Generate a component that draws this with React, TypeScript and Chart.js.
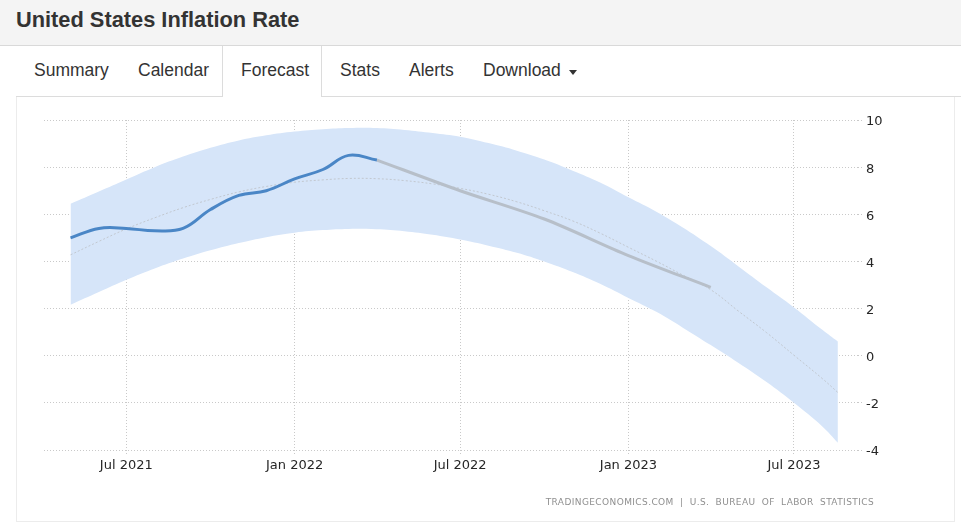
import React, { useEffect, useRef } from 'react';
import { Chart, registerables } from 'chart.js';

Chart.register(...registerables);

// ---- data ----
const actualDates = ['2021-05-01', '2021-06-01', '2021-07-01', '2021-08-01', '2021-09-01', '2021-10-01', '2021-11-01', '2021-12-01', '2022-01-01', '2022-02-01', '2022-03-01', '2022-04-01'];
const actualValues = [5.0, 5.4, 5.4, 5.3, 5.4, 6.2, 6.8, 7.0, 7.5, 7.9, 8.5, 8.3];

const forecastDates = ['2022-04-01', '2022-07-01', '2022-10-01', '2023-01-01', '2023-04-01'];
const forecastValues = [8.3, 7.0, 5.8, 4.25, 2.9];

const bandDates = [
  '2021-05-01', '2021-06-01', '2021-07-01', '2021-08-01', '2021-09-01', '2021-10-01', '2021-11-01', '2021-12-01',
  '2022-01-01', '2022-02-01', '2022-03-01', '2022-04-01', '2022-05-01', '2022-06-01', '2022-07-01', '2022-08-01',
  '2022-09-01', '2022-10-01', '2022-11-01', '2022-12-01', '2023-01-01', '2023-02-01', '2023-03-01', '2023-04-01',
  '2023-05-01', '2023-06-01', '2023-07-01', '2023-08-01', '2023-08-18',
];
const bandUpper = [6.45, 6.97, 7.48, 8.0, 8.45, 8.82, 9.13, 9.35, 9.51, 9.61, 9.66, 9.66, 9.58, 9.45, 9.29, 9.02, 8.7, 8.32, 7.85, 7.35, 6.72, 6.1, 5.45, 4.65, 3.8, 2.9, 2.05, 1.1, 0.6];
const bandLower = [2.16, 2.7, 3.22, 3.7, 4.12, 4.47, 4.78, 5.03, 5.22, 5.33, 5.38, 5.36, 5.28, 5.13, 4.93, 4.67, 4.37, 4.0, 3.55, 3.05, 2.45, 1.85, 1.2, 0.45, -0.3, -1.12, -2.0, -3.0, -3.69];
const trendValues = [4.28, 4.85, 5.38, 5.85, 6.28, 6.63, 6.95, 7.18, 7.36, 7.46, 7.52, 7.51, 7.43, 7.29, 7.1, 6.85, 6.53, 6.15, 5.72, 5.2, 4.6, 4.0, 3.43, 2.8, 1.9, 0.98, 0.02, -0.97, -1.56];

const xTickDates = ['2021-07-01', '2022-01-01', '2022-07-01', '2023-01-01', '2023-07-01'];
const xTickLabels = ['Jul 2021', 'Jan 2022', 'Jul 2022', 'Jan 2023', 'Jul 2023'];
const xRange = ['2021-04-02', '2023-09-09'];
const yTicks = [-4, -2, 0, 2, 4, 6, 8, 10];

const tabs = ['Summary', 'Calendar', 'Forecast', 'Stats', 'Alerts', 'Download'];

const EPOCH = Date.parse('2021-07-01T00:00:00Z');
const day = (d: string) => (Date.parse(d + 'T00:00:00Z') - EPOCH) / 86400000;
const pts = (dates: string[], vals: number[]) => dates.map((d, i) => ({ x: day(d), y: vals[i] }));

const FONT = "'DejaVu Sans', sans-serif";

function InflationChart() {
  const ref = useRef<HTMLCanvasElement | null>(null);
  useEffect(() => {
    if (!ref.current) return;
    const tickVals = xTickDates.map(day);
    const chart = new Chart(ref.current, {
      type: 'line',
      data: {
        datasets: [
          {
            data: pts(actualDates, actualValues),
            borderColor: '#4a86c6',
            borderWidth: 3,
            pointRadius: 0,
            tension: 0.4,
            fill: false,
          },
          {
            data: pts(forecastDates, forecastValues),
            borderColor: '#b7bfc9',
            borderWidth: 3,
            pointRadius: 0,
            tension: 0.3,
            fill: false,
          },
          {
            data: pts(bandDates, trendValues),
            borderColor: '#c2c8d0',
            borderWidth: 1,
            borderDash: [2, 2],
            pointRadius: 0,
            tension: 0.4,
            fill: false,
          },
          {
            data: pts(bandDates, bandUpper),
            borderColor: 'rgba(0,0,0,0)',
            borderWidth: 0,
            backgroundColor: '#d6e5f9',
            pointRadius: 0,
            tension: 0.4,
            fill: '+1',
          },
          {
            data: pts(bandDates, bandLower),
            borderColor: 'rgba(0,0,0,0)',
            borderWidth: 0,
            pointRadius: 0,
            tension: 0.4,
            fill: false,
          },
        ],
      },
      options: {
        animation: false,
        responsive: false,
        maintainAspectRatio: false,
        layout: { padding: { left: 27, top: 20, right: 0, bottom: 0 } },
        plugins: { legend: { display: false }, tooltip: { enabled: false } },
        events: [],
        scales: {
          x: {
            type: 'linear',
            min: day(xRange[0]),
            max: day(xRange[1]),
            afterBuildTicks: (scale: any) => {
              scale.ticks = tickVals.map((v) => ({ value: v }));
            },
            afterFit: (scale: any) => {
              scale.height = 68;
            },
            ticks: {
              autoSkip: false,
              maxRotation: 0,
              padding: 3,
              color: '#262626',
              font: { family: FONT, size: 13 },
              callback: (v: any) => {
                const i = tickVals.indexOf(Number(v));
                return i >= 0 ? xTickLabels[i] : '';
              },
            },
            grid: {
              color: '#c9c9c9',
              lineWidth: 1,
              tickLength: 5,
              tickBorderDash: [1, 2],
              tickColor: '#c9c9c9',
            },
            border: { display: false, dash: [1, 2] },
          },
          y: {
            type: 'linear',
            position: 'right',
            min: -4,
            max: 10,
            afterBuildTicks: (scale: any) => {
              scale.ticks = yTicks.map((v) => ({ value: v }));
            },
            afterFit: (scale: any) => {
              scale.width = 96;
            },
            ticks: {
              padding: 3,
              labelOffset: 2,
              color: '#262626',
              font: { family: FONT, size: 13 },
            },
            grid: {
              color: '#c9c9c9',
              lineWidth: 1,
              tickLength: 5,
              tickBorderDash: [1, 2],
              tickColor: '#c9c9c9',
            },
            border: { display: false, dash: [1, 2] },
          },
        },
      },
    } as any);
    return () => chart.destroy();
  }, []);
  return (
    <canvas
      ref={ref}
      width={937}
      height={418}
      style={{ position: 'absolute', left: 17, top: 100, width: 937, height: 418 }}
    />
  );
}

export default function App() {
  const tabPos = [34, 138, 241, 340, 409, 483];
  return (
    <div
      style={{
        position: 'absolute',
        left: 0,
        top: 0,
        width: 961,
        height: 525,
        background: '#fff',
        overflow: 'hidden',
        fontFamily: "'Liberation Sans', Arial, sans-serif",
        color: '#333',
      }}
    >
      {/* header */}
      <div style={{ position: 'absolute', left: 0, top: 0, width: 961, height: 45, background: '#f4f4f4', borderBottom: '1px solid #d9d9d9' }} />
      <div style={{ position: 'absolute', left: 16, top: 9, fontSize: 21.8, lineHeight: '22px', fontWeight: 'bold', color: '#333', whiteSpace: 'nowrap' }}>
        United States Inflation Rate
      </div>
      {/* tab bar bottom line */}
      <div style={{ position: 'absolute', left: 16, top: 96, width: 206, height: 1, background: '#dcdcdc' }} />
      <div style={{ position: 'absolute', left: 321, top: 96, width: 640, height: 1, background: '#dcdcdc' }} />
      {/* active tab borders */}
      <div style={{ position: 'absolute', left: 222, top: 46, width: 1, height: 51, background: '#dcdcdc' }} />
      <div style={{ position: 'absolute', left: 321, top: 46, width: 1, height: 51, background: '#dcdcdc' }} />
      {tabs.map((t, i) => (
        <div key={t} style={{ position: 'absolute', left: tabPos[i], top: 62, fontSize: 17.5, lineHeight: '17.5px', color: '#333', whiteSpace: 'nowrap' }}>
          {t}
        </div>
      ))}
      <div
        style={{
          position: 'absolute',
          left: 569,
          top: 70,
          width: 0,
          height: 0,
          borderTop: '5px solid #333',
          borderLeft: '4.5px solid transparent',
          borderRight: '4.5px solid transparent',
        }}
      />
      {/* panel borders */}
      <div style={{ position: 'absolute', left: 16, top: 97, width: 1, height: 425, background: '#ececec' }} />
      <div style={{ position: 'absolute', left: 954, top: 97, width: 1, height: 425, background: '#ececec' }} />
      <div style={{ position: 'absolute', left: 16, top: 521, width: 939, height: 1, background: '#ececec' }} />
      <InflationChart />
      <div
        style={{
          position: 'absolute',
          right: 87,
          top: 497,
          fontFamily: FONT,
          fontSize: 9,
          lineHeight: '11px',
          letterSpacing: 0.4,
          wordSpacing: 3,
          color: '#8f8f8f',
          whiteSpace: 'nowrap',
        }}
      >
        TRADINGECONOMICS.COM | U.S. BUREAU OF LABOR STATISTICS
      </div>
    </div>
  );
}
